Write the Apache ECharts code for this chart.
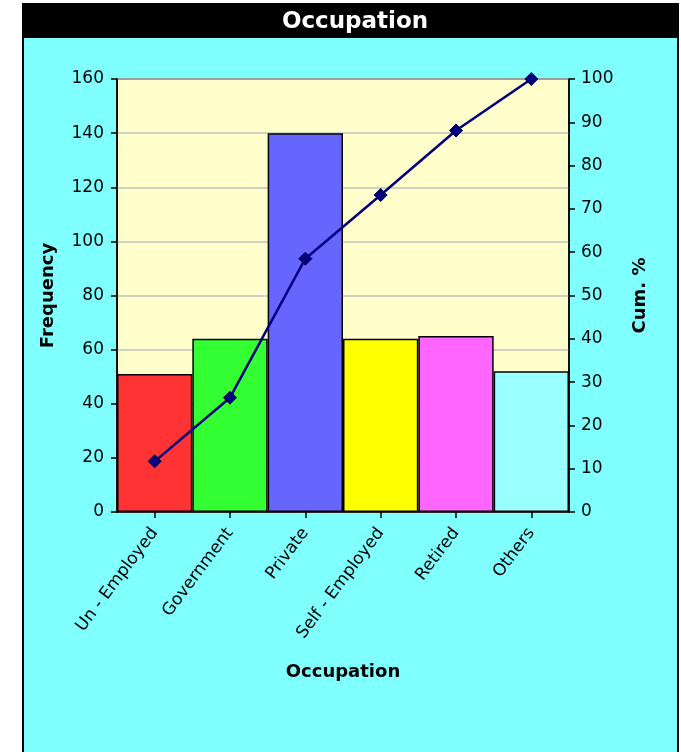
<!DOCTYPE html>
<html>
<head>
<meta charset="utf-8">
<title>Occupation</title>
<script src="https://cdn.jsdelivr.net/npm/echarts@6/dist/echarts.min.js"></script>
<style>
  html, body { margin: 0; padding: 0; background: #ffffff; }
  #chart { width: 681px; height: 752px; }
</style>
</head>
<body>
<div id="chart"></div>
<script>
// Occupation survey: frequency per group and cumulative percentage
const categories = ['Un - Employed', 'Government', 'Private', 'Self - Employed', 'Retired', 'Others'];
const frequency = [51, 64, 140, 64, 65, 52];
const cumPercent = [11.7, 26.4, 58.5, 73.2, 88.1, 100];
const freqTicks = { min: 0, max: 160, interval: 20 };
const cumTicks = { min: 0, max: 100, interval: 10 };

// Palette for the bars, one per category
const barColors = ['#ff3333', '#33ff33', '#6666ff', '#ffff00', '#ff66ff', '#99ffff'];

const FONT = '"DejaVu Sans", Verdana, sans-serif';

const chart = echarts.init(document.getElementById('chart'), null, { renderer: 'canvas' });

chart.setOption({
  backgroundColor: '#ffffff',
  animation: false,
  graphic: [
    {
      type: 'rect', z: -10, silent: true,
      shape: { x: 23, y: 4, width: 655, height: 760 },
      style: { fill: '#80ffff', stroke: '#000000', lineWidth: 2 }
    },
    {
      type: 'rect', z: -9, silent: true,
      shape: { x: 23, y: 4, width: 655, height: 34 },
      style: { fill: '#000000' }
    },
    {
      type: 'text', z: 10, silent: true,
      x: 355, y: 22,
      style: {
        text: 'Occupation', fill: '#ffffff',
        font: 'bold 23px ' + FONT,
        textAlign: 'center', textVerticalAlign: 'middle'
      }
    }
  ],
  grid: {
    left: 117, right: 112, top: 79, bottom: 240,
    show: true, backgroundColor: '#ffffcc',
    borderColor: '#000000', borderWidth: 1.5
  },
  xAxis: {
    type: 'category',
    data: categories,
    name: 'Occupation',
    nameLocation: 'middle',
    nameGap: 151,
    nameTextStyle: { color: '#000000', fontFamily: FONT, fontWeight: 'bold', fontSize: 18 },
    axisLine: { show: true, lineStyle: { color: '#000000', width: 1.5 } },
    axisTick: { show: true, alignWithLabel: true, length: 6, lineStyle: { color: '#000000', width: 1.5 } },
    axisLabel: {
      rotate: 53, margin: 18, interval: 0,
      color: '#000000', fontFamily: FONT, fontSize: 17
    },
    splitLine: { show: false }
  },
  yAxis: [
    {
      type: 'value',
      position: 'left',
      min: freqTicks.min, max: freqTicks.max, interval: freqTicks.interval,
      name: 'Frequency',
      nameLocation: 'middle',
      nameRotate: 90,
      nameGap: 60,
      nameTextStyle: { color: '#000000', fontFamily: FONT, fontWeight: 'bold', fontSize: 18 },
      axisLine: { show: true, lineStyle: { color: '#000000', width: 1.5 } },
      axisTick: { show: true, inside: false, length: 6, lineStyle: { color: '#000000', width: 1.5 } },
      axisLabel: { color: '#000000', fontFamily: FONT, fontSize: 17, margin: 13 },
      splitLine: { show: true, lineStyle: { color: '#c0c0c0', width: 1.5 } }
    },
    {
      type: 'value',
      position: 'right',
      min: cumTicks.min, max: cumTicks.max, interval: cumTicks.interval,
      name: 'Cum. %',
      nameLocation: 'middle',
      nameRotate: 90,
      nameGap: 62,
      nameTextStyle: { color: '#000000', fontFamily: FONT, fontWeight: 'bold', fontSize: 18 },
      axisLine: { show: true, lineStyle: { color: '#000000', width: 1.5 } },
      axisTick: { show: true, inside: false, length: 6, lineStyle: { color: '#000000', width: 1.5 } },
      axisLabel: { color: '#000000', fontFamily: FONT, fontSize: 17, margin: 12 },
      splitLine: { show: false }
    }
  ],
  series: [
    {
      name: 'Frequency',
      type: 'bar',
      yAxisIndex: 0,
      barCategoryGap: '0%',
      data: frequency.map((v, i) => ({
        value: v,
        itemStyle: { color: barColors[i % barColors.length] }
      })),
      itemStyle: { borderColor: '#000000', borderWidth: 1.5 },
      z: 2
    },
    {
      name: 'Cum. %',
      type: 'line',
      yAxisIndex: 1,
      data: cumPercent,
      symbol: 'diamond',
      symbolSize: 13,
      lineStyle: { color: '#000080', width: 2.5 },
      itemStyle: { color: '#000080', borderColor: '#000040', borderWidth: 1 },
      z: 5
    }
  ]
});
</script>
</body>
</html>
